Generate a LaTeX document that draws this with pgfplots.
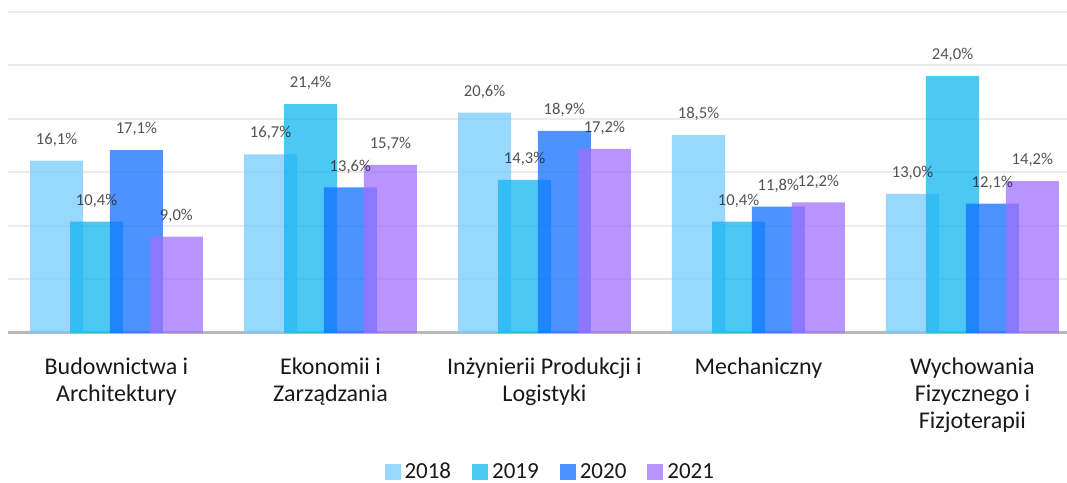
\documentclass[border=0pt]{standalone}
\usepackage{pgfplots}
\pgfplotsset{compat=1.18}
\usepackage{fontspec}
\setmainfont{Carlito}
\usetikzlibrary{calc}

\definecolor{c18}{RGB}{117,203,255}
\definecolor{c19}{RGB}{17,181,241}
\definecolor{c20}{RGB}{17,111,255}
\definecolor{c21}{RGB}{160,112,255}

\begin{document}
\begin{tikzpicture}
\begin{axis}[scale only axis, width=529.5pt, height=160.5pt,
  xmin=-0.507, xmax=4.442, ymin=0, ymax=30,
  ybar, bar width=0.248,
  /pgf/number format/assume math mode=true,
  xtick={0,...,4}, ytick={0,5,...,30}, yticklabels={},
  xticklabels={{Budownictwa i\\Architektury},{Ekonomii i\\Zarządzania},{Inżynierii Produkcji i\\Logistyki},{Mechaniczny},{Wychowania\\Fizycznego i\\Fizjoterapii}},
  xticklabel style={align=center, font=\fontsize{12}{13.5}\selectfont, text=black!90, yshift=-9pt},
  major tick length=0pt,
  ymajorgrids, grid style={black!8, line width=1pt},
  axis x line*=bottom, axis y line*=left,
  x axis line style={black!28, line width=1.5pt, -},
  y axis line style={draw=none},
  nodes near coords={\pgfmathprintnumber[fixed, fixed zerofill, precision=1, use comma]{\pgfplotspointmeta}\%},
  every node near coord/.append style={font=\fontsize{8.3}{10}\selectfont, text=black!90, anchor=center, yshift=10.5pt},
  legend style={at={(0.513,-0.434)}, anchor=center, legend columns=4, draw=none, fill=none,
    font=\fontsize{11.5}{13}\selectfont, text=black!90,
    /tikz/every even column/.append style={column sep=8.5pt}},
  legend image code/.code={\fill[#1] (0pt,-4pt) rectangle (8pt,4pt);},
]
\addplot[fill=c18, draw=none, fill opacity=0.75, bar shift=-0.28] coordinates {(0,16.1) (1,16.7) (2,20.6) (3,18.5) (4,13.0)};
\addplot[fill=c19, draw=none, fill opacity=0.75, bar shift=-0.093] coordinates {(0,10.4) (1,21.4) (2,14.3) (3,10.4) (4,24.0)};
\addplot[fill=c20, draw=none, fill opacity=0.75, bar shift=0.093] coordinates {(0,17.1) (1,13.6) (2,18.9) (3,11.8) (4,12.1)};
\addplot[fill=c21, draw=none, fill opacity=0.75, bar shift=0.28] coordinates {(0,9.0) (1,15.7) (2,17.2) (3,12.2) (4,14.2)};
\legend{2018,2019,2020,2021}
\end{axis}
\pgfresetboundingbox
\path[use as bounding box] ($(current axis.south west)+(-4pt,-75pt)$) rectangle ($(current axis.north east)+(0pt,6pt)$);
\end{tikzpicture}
\end{document}
